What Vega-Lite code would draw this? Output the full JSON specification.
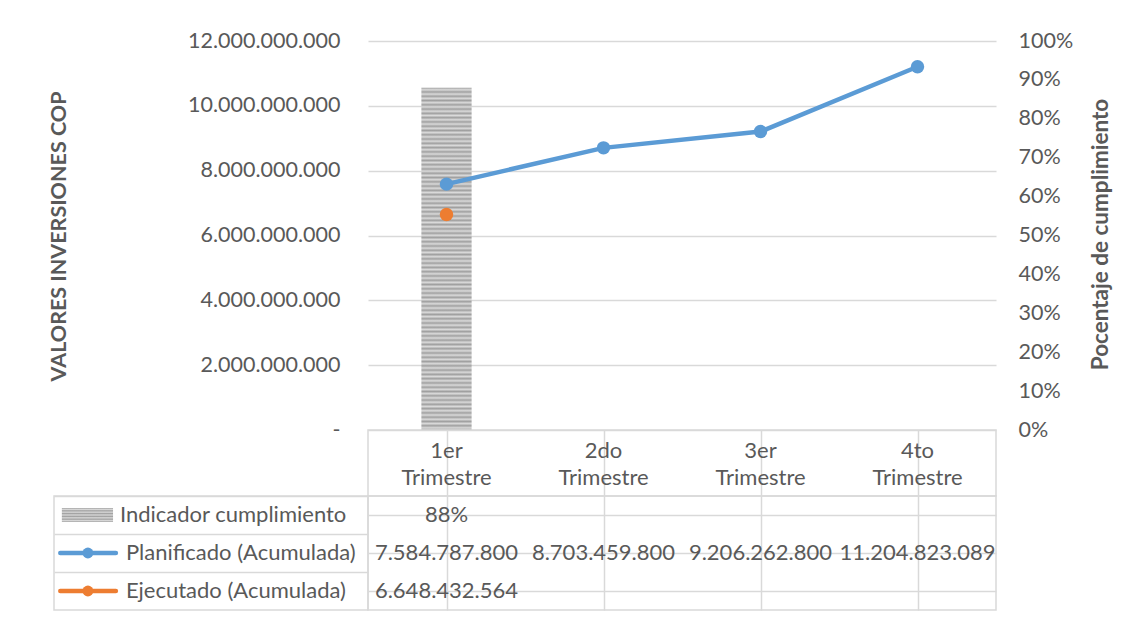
{
  "$schema": "https://vega.github.io/schema/vega-lite/v6.json",
  "padding": {"left": 48, "top": 30, "right": 5, "bottom": 5},
  "background": "white",
  "config": {
    "locale": {"number": {"decimal": ",", "thousands": ".", "grouping": [3], "currency": ["$", ""]}},
    "font": "Lato",
    "view": {"stroke": null},
    "axis": {"labelFont": "Lato", "titleFont": "Lato", "labelColor": "#595959", "titleColor": "#595959"},
    "text": {"font": "Lato", "fontSize": 22, "color": "#595959"}
  },
  "datasets": {
    "trimestres": [
      {"trimestre": "1er Trimestre", "indicador": 0.88, "planificado": 7584787800, "ejecutado": 6648432564},
      {"trimestre": "2do Trimestre", "indicador": null, "planificado": 8703459800, "ejecutado": null},
      {"trimestre": "3er Trimestre", "indicador": null, "planificado": 9206262800, "ejecutado": null},
      {"trimestre": "4to Trimestre", "indicador": null, "planificado": 11204823089, "ejecutado": null}
    ],
    "series": [
      {"serie": "Indicador cumplimiento"},
      {"serie": "Planificado (Acumulada)"},
      {"serie": "Ejecutado (Acumulada)"}
    ]
  },
  "spacing": 0,
  "bounds": "flush",
  "align": "each",
  "columns": 2,
  "concat": [
    {
      "width": 314, "height": 389,
      "data": {"values": [{}]},
      "mark": {"type": "text", "text": ""}
    },
    {
      "width": 628, "height": 389,
      "data": {"name": "trimestres"},
      "resolve": {"scale": {"y": "independent"}},
      "layer": [
        {
          "transform": [{"filter": "isValid(datum.indicador)"}],
          "mark": {
            "type": "bar",
            "width": {"band": 0.32},
            "fill": {"gradient": "linear", "x1": 0, "y1": 0, "x2": 0, "y2": 1, "stops": [
              {"offset":0,"color":"#a0a0a0"},{"offset":0.00625,"color":"#dadada"},{"offset":0.0125,"color":"#a0a0a0"},{"offset":0.01875,"color":"#dadada"},
              {"offset":0.025,"color":"#a0a0a0"},{"offset":0.03125,"color":"#dadada"},{"offset":0.0375,"color":"#a0a0a0"},{"offset":0.04375,"color":"#dadada"},
              {"offset":0.05,"color":"#a0a0a0"},{"offset":0.05625,"color":"#dadada"},{"offset":0.0625,"color":"#a0a0a0"},{"offset":0.06875,"color":"#dadada"},
              {"offset":0.075,"color":"#a0a0a0"},{"offset":0.08125,"color":"#dadada"},{"offset":0.0875,"color":"#a0a0a0"},{"offset":0.09375,"color":"#dadada"},
              {"offset":0.1,"color":"#a0a0a0"},{"offset":0.10625,"color":"#dadada"},{"offset":0.1125,"color":"#a0a0a0"},{"offset":0.11875,"color":"#dadada"},
              {"offset":0.125,"color":"#a0a0a0"},{"offset":0.13125,"color":"#dadada"},{"offset":0.1375,"color":"#a0a0a0"},{"offset":0.14375,"color":"#dadada"},
              {"offset":0.15,"color":"#a0a0a0"},{"offset":0.15625,"color":"#dadada"},{"offset":0.1625,"color":"#a0a0a0"},{"offset":0.16875,"color":"#dadada"},
              {"offset":0.175,"color":"#a0a0a0"},{"offset":0.18125,"color":"#dadada"},{"offset":0.1875,"color":"#a0a0a0"},{"offset":0.19375,"color":"#dadada"},
              {"offset":0.2,"color":"#a0a0a0"},{"offset":0.20625,"color":"#dadada"},{"offset":0.2125,"color":"#a0a0a0"},{"offset":0.21875,"color":"#dadada"},
              {"offset":0.225,"color":"#a0a0a0"},{"offset":0.23125,"color":"#dadada"},{"offset":0.2375,"color":"#a0a0a0"},{"offset":0.24375,"color":"#dadada"},
              {"offset":0.25,"color":"#a0a0a0"},{"offset":0.25625,"color":"#dadada"},{"offset":0.2625,"color":"#a0a0a0"},{"offset":0.26875,"color":"#dadada"},
              {"offset":0.275,"color":"#a0a0a0"},{"offset":0.28125,"color":"#dadada"},{"offset":0.2875,"color":"#a0a0a0"},{"offset":0.29375,"color":"#dadada"},
              {"offset":0.3,"color":"#a0a0a0"},{"offset":0.30625,"color":"#dadada"},{"offset":0.3125,"color":"#a0a0a0"},{"offset":0.31875,"color":"#dadada"},
              {"offset":0.325,"color":"#a0a0a0"},{"offset":0.33125,"color":"#dadada"},{"offset":0.3375,"color":"#a0a0a0"},{"offset":0.34375,"color":"#dadada"},
              {"offset":0.35,"color":"#a0a0a0"},{"offset":0.35625,"color":"#dadada"},{"offset":0.3625,"color":"#a0a0a0"},{"offset":0.36875,"color":"#dadada"},
              {"offset":0.375,"color":"#a0a0a0"},{"offset":0.38125,"color":"#dadada"},{"offset":0.3875,"color":"#a0a0a0"},{"offset":0.39375,"color":"#dadada"},
              {"offset":0.4,"color":"#a0a0a0"},{"offset":0.40625,"color":"#dadada"},{"offset":0.4125,"color":"#a0a0a0"},{"offset":0.41875,"color":"#dadada"},
              {"offset":0.425,"color":"#a0a0a0"},{"offset":0.43125,"color":"#dadada"},{"offset":0.4375,"color":"#a0a0a0"},{"offset":0.44375,"color":"#dadada"},
              {"offset":0.45,"color":"#a0a0a0"},{"offset":0.45625,"color":"#dadada"},{"offset":0.4625,"color":"#a0a0a0"},{"offset":0.46875,"color":"#dadada"},
              {"offset":0.475,"color":"#a0a0a0"},{"offset":0.48125,"color":"#dadada"},{"offset":0.4875,"color":"#a0a0a0"},{"offset":0.49375,"color":"#dadada"},
              {"offset":0.5,"color":"#a0a0a0"},{"offset":0.50625,"color":"#dadada"},{"offset":0.5125,"color":"#a0a0a0"},{"offset":0.51875,"color":"#dadada"},
              {"offset":0.525,"color":"#a0a0a0"},{"offset":0.53125,"color":"#dadada"},{"offset":0.5375,"color":"#a0a0a0"},{"offset":0.54375,"color":"#dadada"},
              {"offset":0.55,"color":"#a0a0a0"},{"offset":0.55625,"color":"#dadada"},{"offset":0.5625,"color":"#a0a0a0"},{"offset":0.56875,"color":"#dadada"},
              {"offset":0.575,"color":"#a0a0a0"},{"offset":0.58125,"color":"#dadada"},{"offset":0.5875,"color":"#a0a0a0"},{"offset":0.59375,"color":"#dadada"},
              {"offset":0.6,"color":"#a0a0a0"},{"offset":0.60625,"color":"#dadada"},{"offset":0.6125,"color":"#a0a0a0"},{"offset":0.61875,"color":"#dadada"},
              {"offset":0.625,"color":"#a0a0a0"},{"offset":0.63125,"color":"#dadada"},{"offset":0.6375,"color":"#a0a0a0"},{"offset":0.64375,"color":"#dadada"},
              {"offset":0.65,"color":"#a0a0a0"},{"offset":0.65625,"color":"#dadada"},{"offset":0.6625,"color":"#a0a0a0"},{"offset":0.66875,"color":"#dadada"},
              {"offset":0.675,"color":"#a0a0a0"},{"offset":0.68125,"color":"#dadada"},{"offset":0.6875,"color":"#a0a0a0"},{"offset":0.69375,"color":"#dadada"},
              {"offset":0.7,"color":"#a0a0a0"},{"offset":0.70625,"color":"#dadada"},{"offset":0.7125,"color":"#a0a0a0"},{"offset":0.71875,"color":"#dadada"},
              {"offset":0.725,"color":"#a0a0a0"},{"offset":0.73125,"color":"#dadada"},{"offset":0.7375,"color":"#a0a0a0"},{"offset":0.74375,"color":"#dadada"},
              {"offset":0.75,"color":"#a0a0a0"},{"offset":0.75625,"color":"#dadada"},{"offset":0.7625,"color":"#a0a0a0"},{"offset":0.76875,"color":"#dadada"},
              {"offset":0.775,"color":"#a0a0a0"},{"offset":0.78125,"color":"#dadada"},{"offset":0.7875,"color":"#a0a0a0"},{"offset":0.79375,"color":"#dadada"},
              {"offset":0.8,"color":"#a0a0a0"},{"offset":0.80625,"color":"#dadada"},{"offset":0.8125,"color":"#a0a0a0"},{"offset":0.81875,"color":"#dadada"},
              {"offset":0.825,"color":"#a0a0a0"},{"offset":0.83125,"color":"#dadada"},{"offset":0.8375,"color":"#a0a0a0"},{"offset":0.84375,"color":"#dadada"},
              {"offset":0.85,"color":"#a0a0a0"},{"offset":0.85625,"color":"#dadada"},{"offset":0.8625,"color":"#a0a0a0"},{"offset":0.86875,"color":"#dadada"},
              {"offset":0.875,"color":"#a0a0a0"},{"offset":0.88125,"color":"#dadada"},{"offset":0.8875,"color":"#a0a0a0"},{"offset":0.89375,"color":"#dadada"},
              {"offset":0.9,"color":"#a0a0a0"},{"offset":0.90625,"color":"#dadada"},{"offset":0.9125,"color":"#a0a0a0"},{"offset":0.91875,"color":"#dadada"},
              {"offset":0.925,"color":"#a0a0a0"},{"offset":0.93125,"color":"#dadada"},{"offset":0.9375,"color":"#a0a0a0"},{"offset":0.94375,"color":"#dadada"},
              {"offset":0.95,"color":"#a0a0a0"},{"offset":0.95625,"color":"#dadada"},{"offset":0.9625,"color":"#a0a0a0"},{"offset":0.96875,"color":"#dadada"},
              {"offset":0.975,"color":"#a0a0a0"},{"offset":0.98125,"color":"#dadada"},{"offset":0.9875,"color":"#a0a0a0"},{"offset":0.99375,"color":"#dadada"},
              {"offset":1,"color":"#a0a0a0"}
            ]}
          },
          "encoding": {
            "x": {"field": "trimestre", "type": "nominal", "sort": null, "scale": {"paddingInner": 0, "paddingOuter": 0}, "axis": null},
            "y": {
              "field": "indicador", "type": "quantitative",
              "scale": {"domain": [0, 1], "nice": false},
              "axis": {
                "orient": "right", "values": [0, 0.1, 0.2, 0.3, 0.4, 0.5, 0.6, 0.7, 0.8, 0.9, 1],
                "format": ".0%", "grid": false, "domain": false, "ticks": false,
                "labelPadding": 22, "labelFontSize": 21.5, "labelAlign": "left",
                "title": "Pocentaje de cumplimiento", "titleFontSize": 22.5, "titleFontWeight": "bold",
                "titleX": 104, "titleY": 193, "titleAngle": -90, "titleAlign": "center", "titleBaseline": "middle"
              }
            }
          }
        },
        {
          "encoding": {
            "x": {"field": "trimestre", "type": "nominal", "sort": null, "scale": {"paddingInner": 0, "paddingOuter": 0}, "axis": null}
          },
          "layer": [
            {
              "mark": {"type": "line", "color": "#5b9bd5", "strokeWidth": 4.5},
              "encoding": {
                "y": {
                  "field": "planificado", "type": "quantitative",
                  "scale": {"domain": [0, 12000000000], "nice": false},
                  "title": "VALORES INVERSIONES COP",
                  "axis": {
                    "orient": "left",
                    "values": [0, 2000000000, 4000000000, 6000000000, 8000000000, 10000000000, 12000000000],
                    "format": ",.0f", "labelExpr": "datum.value === 0 ? '-\u00a0\u00a0\u00a0' : datum.label",
                    "grid": true, "gridColor": "#d9d9d9", "gridWidth": 1.5,
                    "domain": false, "ticks": false, "labelPadding": 28, "labelFontSize": 21.5,
                    "titleFontSize": 21.5, "titleFontWeight": "bold",
                    "titleX": -309, "titleY": 195, "titleAngle": -90, "titleAlign": "center", "titleBaseline": "middle"
                  }
                }
              }
            },
            {
              "mark": {"type": "point", "filled": true, "opacity": 1, "size": 180, "color": "#5b9bd5"},
              "encoding": {"y": {"field": "planificado", "type": "quantitative", "title": "VALORES INVERSIONES COP"}}
            },
            {
              "transform": [{"filter": "isValid(datum.ejecutado)"}],
              "mark": {"type": "point", "filled": true, "opacity": 1, "size": 180, "color": "#ed7d31"},
              "encoding": {"y": {"field": "ejecutado", "type": "quantitative", "title": "VALORES INVERSIONES COP"}}
            }
          ]
        }
      ]
    },
    {
      "width": 314, "height": 66,
      "data": {"values": [{}]},
      "mark": {"type": "text", "text": ""}
    },
    {
      "width": 628, "height": 66,
      "data": {"name": "trimestres"},
      "view": {"stroke": "#d9d9d9", "strokeWidth": 1.5},
      "mark": {"type": "text", "lineBreak": " ", "lineHeight": 27, "fontSize": 22, "baseline": "middle", "dy": -12},
      "encoding": {
        "x": {"field": "trimestre", "type": "nominal", "sort": null, "scale": {"paddingInner": 0, "paddingOuter": 0},
              "axis": {"grid": true, "bandPosition": 0, "labels": false, "ticks": false, "domain": false, "title": null, "gridColor": "#d9d9d9", "gridWidth": 1.5}},
        "text": {"field": "trimestre"}
      }
    },
    {
      "width": 314, "height": 114,
      "data": {"name": "series"},
      "view": {"stroke": "#d9d9d9", "strokeWidth": 1.5},
      "encoding": {
        "y": {"field": "serie", "type": "nominal", "sort": null,
              "scale": {"domain": ["Indicador cumplimiento", "Planificado (Acumulada)", "Ejecutado (Acumulada)"], "paddingInner": 0, "paddingOuter": 0},
              "axis": {"grid": true, "bandPosition": 0, "labels": false, "ticks": false, "domain": false, "title": null, "gridColor": "#d9d9d9", "gridWidth": 1.5}}
      },
      "layer": [
        {
          "transform": [{"filter": "datum.serie === 'Indicador cumplimiento'"}],
          "mark": {"type": "bar", "height": 14, "fill": {"gradient": "linear", "x1": 0, "y1": 0, "x2": 0, "y2": 1, "stops": [
            {"offset":0,"color":"#a0a0a0"},{"offset":0.1,"color":"#dadada"},{"offset":0.2,"color":"#a0a0a0"},{"offset":0.3,"color":"#dadada"},
            {"offset":0.4,"color":"#a0a0a0"},{"offset":0.5,"color":"#dadada"},{"offset":0.6,"color":"#a0a0a0"},{"offset":0.7,"color":"#dadada"},
            {"offset":0.8,"color":"#a0a0a0"},{"offset":0.9,"color":"#dadada"},{"offset":1,"color":"#a0a0a0"}
          ]}},
          "encoding": {
            "x": {"datum": 0.025, "type": "quantitative", "scale": {"domain": [0, 1], "nice": false, "zero": false}, "axis": null},
            "x2": {"datum": 0.188}
          }
        },
        {
          "transform": [{"filter": "datum.serie !== 'Indicador cumplimiento'"}],
          "mark": {"type": "rule", "strokeWidth": 4.5, "strokeCap": "round"},
          "encoding": {
            "x": {"datum": 0.02, "type": "quantitative"},
            "x2": {"datum": 0.197},
            "color": {"field": "serie", "type": "nominal",
                      "scale": {"domain": ["Indicador cumplimiento", "Planificado (Acumulada)", "Ejecutado (Acumulada)"], "range": ["#a6a6a6", "#5b9bd5", "#ed7d31"]},
                      "legend": null}
          }
        },
        {
          "transform": [{"filter": "datum.serie !== 'Indicador cumplimiento'"}],
          "mark": {"type": "point", "filled": true, "opacity": 1, "size": 120},
          "encoding": {
            "x": {"datum": 0.108, "type": "quantitative"},
            "color": {"field": "serie", "type": "nominal", "legend": null}
          }
        },
        {
          "transform": [{"filter": "datum.serie === 'Indicador cumplimiento'"}],
          "mark": {"type": "text", "align": "left", "fontSize": 22},
          "encoding": {
            "x": {"datum": 0.21, "type": "quantitative"},
            "text": {"field": "serie"}
          }
        },
        {
          "transform": [{"filter": "datum.serie !== 'Indicador cumplimiento'"}],
          "mark": {"type": "text", "align": "left", "fontSize": 22},
          "encoding": {
            "x": {"datum": 0.229, "type": "quantitative"},
            "text": {"field": "serie"}
          }
        }
      ]
    },
    {
      "width": 628, "height": 114,
      "data": {"name": "trimestres"},
      "view": {"stroke": "#d9d9d9", "strokeWidth": 1.5},
      "encoding": {
        "x": {"field": "trimestre", "type": "nominal", "sort": null, "scale": {"paddingInner": 0, "paddingOuter": 0},
              "axis": {"grid": true, "bandPosition": 0, "labels": false, "ticks": false, "domain": false, "title": null, "gridColor": "#d9d9d9", "gridWidth": 1.5}}
      },
      "layer": [
        {
          "transform": [{"filter": "isValid(datum.indicador)"}],
          "mark": {"type": "text", "fontSize": 22},
          "encoding": {
            "y": {"datum": "Indicador cumplimiento", "type": "nominal",
                  "scale": {"domain": ["Indicador cumplimiento", "Planificado (Acumulada)", "Ejecutado (Acumulada)"], "paddingInner": 0, "paddingOuter": 0},
                  "axis": {"grid": true, "bandPosition": 0, "labels": false, "ticks": false, "domain": false, "title": null, "gridColor": "#d9d9d9", "gridWidth": 1.5}},
            "text": {"field": "indicador", "type": "quantitative", "format": ".0%"}
          }
        },
        {
          "mark": {"type": "text", "fontSize": 22},
          "encoding": {
            "y": {"datum": "Planificado (Acumulada)", "type": "nominal"},
            "text": {"field": "planificado", "type": "quantitative", "format": ",.0f"}
          }
        },
        {
          "transform": [{"filter": "isValid(datum.ejecutado)"}],
          "mark": {"type": "text", "fontSize": 22},
          "encoding": {
            "y": {"datum": "Ejecutado (Acumulada)", "type": "nominal"},
            "text": {"field": "ejecutado", "type": "quantitative", "format": ",.0f"}
          }
        }
      ]
    }
  ]
}
